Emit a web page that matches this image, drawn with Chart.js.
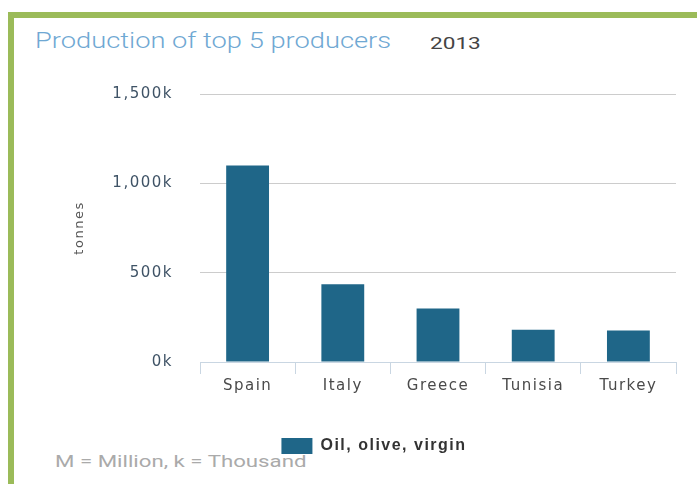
<!DOCTYPE html>
<html>
<head>
  <meta charset="UTF-8">
  <title>Production of top 5 producers</title>
  <script src="https://cdn.jsdelivr.net/npm/chart.js"></script>
  <style>
    body { margin: 0; background: #fff; font-family: Roboto, sans-serif; }
    #wrap { position: relative; width: 697px; height: 484px; overflow: hidden; }
    /* green frame, top and left only */
    .frame { position: absolute; left: 8px; top: 12px; width: 700px; height: 480px;
             border-top: 6px solid #9bbb59; border-left: 6px solid #9bbb59; }
    .title { position: absolute; left: 35px; top: 28px; font-size: 22px; font-weight: 300;
             color: #6fa8d3; transform: scaleX(1.24); transform-origin: left; white-space: nowrap; }
    .year { position: absolute; left: 430px; top: 33px; font-size: 17px; color: #444;
            transform: scaleX(1.33); transform-origin: left; }
    .note { position: absolute; left: 55px; top: 452px; font-size: 16px; color: #aaa;
            transform: scaleX(1.39); transform-origin: left; white-space: nowrap; }
    canvas { position: absolute; left: 0; top: 0; }
  </style>
</head>
<body>
<div id="wrap">
  <div class="frame"></div>
  <div class="title">Production of top 5 producers</div>
  <div class="year">2013</div>
  <div class="note">M = Million, k = Thousand</div>
  <canvas id="chart" width="697" height="484"></canvas>
</div>
<script>
  // data (tonnes)
  const countries = ['Spain', 'Italy', 'Greece', 'Tunisia', 'Turkey'];
  const seriesName = 'Oil, olive, virgin';
  const production = [1100000, 435000, 300000, 180000, 176000];
  const yTicks = [0, 500000, 1000000, 1500000];

  const barColor = '#1f6688';

  // the original text is drawn wide, so space the letters a little
  const spacing = {
    id: 'spacing',
    beforeLayout(chart) { chart.ctx.letterSpacing = '1.5px'; },
    beforeDraw(chart) { chart.ctx.letterSpacing = '1.5px'; }
  };

  new Chart(document.getElementById('chart'), {
    type: 'bar',
    data: {
      labels: countries,
      datasets: [{
        label: seriesName,
        data: production,
        backgroundColor: barColor,
        barPercentage: 0.45,
        categoryPercentage: 1
      }]
    },
    options: {
      responsive: false,
      animation: false,
      layout: { padding: { left: 72, right: 21, top: 94, bottom: 20 } },
      plugins: {
        tooltip: { enabled: false },
        legend: {
          position: 'bottom',
          labels: {
            boxWidth: 31, boxHeight: 16, color: '#333',
            font: { family: 'Liberation Sans', size: 16, weight: 'bold' }
          }
        }
      },
      scales: {
        x: {
          afterFit(axis) { axis.height += 30; },
          grid: { drawOnChartArea: false, offset: true, tickLength: 12, color: '#c9d6e2' },
          border: { color: '#c9d6e2' },
          ticks: { color: '#4a4a4a', padding: 3, font: { family: 'DejaVu Sans', size: 15 } }
        },
        y: {
          min: 0, max: 1500000,
          afterBuildTicks(axis) { axis.ticks = yTicks.map(v => ({ value: v })); },
          afterFit(axis) { axis.width = 128; },
          grid: { drawTicks: false, color: '#cccccc' },
          border: { display: false },
          title: { display: true, text: 'tonnes', color: '#555', padding: 0,
                   font: { family: 'DejaVu Sans', size: 13 } },
          ticks: {
            color: '#3f5366', padding: 27,
            font: { family: 'DejaVu Sans', size: 15 },
            callback: v => (v / 1000).toLocaleString('en-US') + 'k'
          }
        }
      }
    },
    plugins: [spacing]
  });
</script>
</body>
</html>
